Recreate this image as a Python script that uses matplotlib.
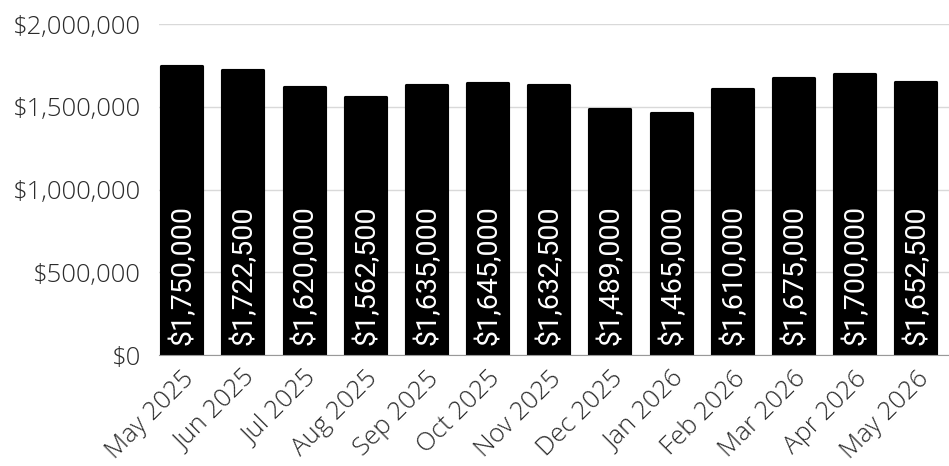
import matplotlib
matplotlib.use("Agg")
import matplotlib.pyplot as plt
from matplotlib.ticker import FuncFormatter

months = ["May 2025", "Jun 2025", "Jul 2025", "Aug 2025", "Sep 2025", "Oct 2025",
          "Nov 2025", "Dec 2025", "Jan 2026", "Feb 2026", "Mar 2026", "Apr 2026", "May 2026"]
values = [1750000, 1722500, 1620000, 1562500, 1635000, 1645000, 1632500,
          1489000, 1465000, 1610000, 1675000, 1700000, 1652500]
yticks = [0, 500000, 1000000, 1500000, 2000000]

plt.rcParams['font.family'] = ['Open Sans', 'DejaVu Sans']

fig = plt.figure(figsize=(9.49, 4.66), dpi=100)
ax = fig.add_axes([159 / 949, 0.238, 1 - 159 / 949, 0.71])

x = list(range(len(months)))
bars = ax.bar(x, values, width=0.67, color='black', edgecolor='black',
              linewidth=2.25, joinstyle='round', zorder=3)

for xi, v in zip(x, values):
    ax.text(xi + 0.02, 60000, f"${v:,.0f}", rotation=90, ha='center', va='bottom',
            color='white', fontsize=20.5, fontweight='normal',
            family=['Roboto', 'DejaVu Sans'], zorder=4)

ax.set_xlim(-0.37, 12.54)
ax.set_ylim(0, 2000000)
ax.set_yticks(yticks)
ax.yaxis.set_major_formatter(FuncFormatter(lambda v, p: f"${v:,.0f}"))
ax.set_xticks(x)
ax.set_xticklabels(months, rotation=45, ha='right', rotation_mode='anchor')

for lbl in ax.get_yticklabels() + ax.get_xticklabels():
    lbl.set_fontsize(18.5)
    lbl.set_fontweight('light')
    lbl.set_color('#2b2b2b')

ax.grid(axis='y', color='#d9d9d9', linewidth=1, zorder=0)
ax.tick_params(axis='both', length=0)
ax.tick_params(axis='y', pad=13)
ax.tick_params(axis='x', pad=8)
for s in ['top', 'right', 'left']:
    ax.spines[s].set_visible(False)
ax.spines['bottom'].set_color('#999999')
ax.spines['bottom'].set_zorder(5)

fig.savefig("out.png", dpi=100)
